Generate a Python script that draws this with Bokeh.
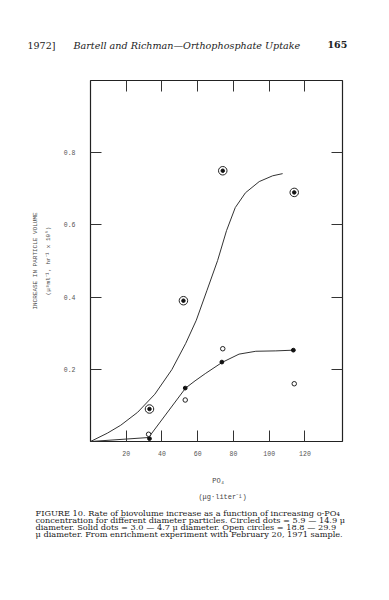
from bokeh.plotting import figure
from bokeh.layouts import column
from bokeh.models import Range1d, LinearAxis, FixedTicker, CustomJSTickFormatter
from bokeh.core.properties import value
from bokeh.embed import file_html
from bokeh.resources import INLINE

# ---- data ----
circled_x = [33, 52, 74, 114]
circled_y = [0.09, 0.39, 0.75, 0.69]
solid_x = [33, 53, 73.5, 113.5]
solid_y = [0.008, 0.148, 0.22, 0.253]
open_x = [32.5, 53, 74, 114]
open_y = [0.02, 0.115, 0.257, 0.16]

upper_x = [0, 9.4, 16.9, 26.4, 36.0, 45.5, 53.3, 59.2, 65.2, 71.1, 76.1, 81.0, 86.7, 94.4, 101.9, 107.5]
upper_y = [0, 0.023, 0.045, 0.081, 0.131, 0.199, 0.272, 0.336, 0.419, 0.501, 0.584, 0.648, 0.689, 0.720, 0.736, 0.742]
lower_x = [0, 32.5, 53.2, 58.5, 64.2, 73.6, 83.1, 92.5, 103.7, 113.6]
lower_y = [0, 0.011, 0.148, 0.168, 0.188, 0.219, 0.242, 0.250, 0.251, 0.253]

x_ticks = [20, 40, 60, 80, 100, 120]
y_ticks = [0.2, 0.4, 0.6, 0.8]

header_left = "1972]"
header_mid = "Bartell and Richman\u2014Orthophosphate Uptake"
header_right = "165"
y_title1 = "INCREASE IN PARTICLE VOLUME"
y_title2 = "(\u03bc\u00b3ml\u207b\u00b9, hr\u207b\u00b9 x 10\u2075)"
x_title1 = "PO\u2084"
x_title2 = "(\u03bcg\u00b7liter\u207b\u00b9)"
caption = [
    "FIGURE 10. Rate of biovolume increase as a function of increasing o-PO\u2084",
    "concentration for different diameter particles. Circled dots = 5.9 \u2014 14.9 \u03bc",
    "diameter. Solid dots = 3.0 \u2014 4.7 \u03bc diameter. Open circles = 18.8 \u2014 29.9",
    "\u03bc diameter. From enrichment experiment with February 20, 1971 sample.",
]

mono = "Liberation Mono"
serif = "DejaVu Serif"
W = 385

# ---- layout (page pixels; the layout sits at the page origin) ----
TOP_H = 60                 # page 0..60
MAIN_TOP = TOP_H
BT, FH, BB = 20, 361, 19   # frame page 80..441
BL = 90
FW = 252
BR = W - BL - FW
MAIN_H = BT + FH + BB      # page 60..460
CAP_TOP = MAIN_TOP + MAIN_H
CAP_H = 135
XMAX, YMAX = 141, 1.0


def text_fig(h):
    f = figure(width=W, height=h, output_backend="svg", toolbar_location=None,
               x_range=Range1d(0, W), y_range=Range1d(h, 0),
               min_border=0, min_border_left=0, min_border_right=0,
               min_border_top=0, min_border_bottom=0,
               x_axis_location=None, y_axis_location=None)
    f.frame_align = False
    f.grid.visible = False
    f.outline_line_color = None
    return f


def put(f, top, text, x, y, font, size, style="normal", align="left",
        color="#222222"):
    f.text(x=[x], y=[y - top], text=[text], text_font=value(font),
           text_font_size=value(size), text_font_style=style,
           text_align=align, text_baseline="middle", text_color=color)


# header strip
head = text_fig(TOP_H)
put(head, 0, header_left, 27, 45, serif, "9.5px")
put(head, 0, header_mid, 73, 45, serif, "9.6px", style="italic")
put(head, 0, header_right, 327, 44, serif, "9.5px", style="bold")

# main chart
p = figure(width=W, height=MAIN_H, output_backend="svg", toolbar_location=None,
           x_range=Range1d(0, XMAX), y_range=Range1d(0, YMAX),
           min_border_left=BL, min_border_right=BR, min_border_top=BT,
           min_border_bottom=BB, x_axis_location=None, y_axis_location=None)
p.frame_align = False
p.grid.visible = False
p.outline_line_color = "#222222"
p.outline_line_width = 1.2


def mk_axis(ticks, show_labels, standoff):
    ax = LinearAxis(ticker=FixedTicker(ticks=ticks))
    ax.axis_line_color = None
    ax.major_tick_in = 11
    ax.major_tick_out = 0
    ax.minor_tick_line_color = None
    ax.major_tick_line_color = "#333333"
    ax.major_tick_line_width = 1
    ax.major_label_text_font = mono
    ax.major_label_text_font_size = "6.5px"
    ax.major_label_text_color = "#555555"
    ax.major_label_standoff = standoff
    if not show_labels:
        ax.formatter = CustomJSTickFormatter(code="return ''")
        ax.major_label_text_font_size = "1px"
    return ax


p.add_layout(mk_axis(x_ticks, True, 9), "below")
p.add_layout(mk_axis(x_ticks, False, 0), "above")
yl = mk_axis(y_ticks, True, 15)
yl.formatter = CustomJSTickFormatter(code="return tick.toFixed(1)")
yl.axis_label = y_title1 + "\n" + y_title2
yl.axis_label_text_font = mono
yl.axis_label_text_font_size = "6px"
yl.axis_label_text_font_style = "normal"
yl.axis_label_text_color = "#444444"
yl.axis_label_text_line_height = 1.85
yl.axis_label_standoff = 9
p.add_layout(yl, "left")
p.add_layout(mk_axis(y_ticks, False, 0), "right")

p.line(upper_x, upper_y, line_color="#333333", line_width=1)
p.line(lower_x, lower_y, line_color="#333333", line_width=1)

p.scatter(circled_x, circled_y, marker="circle", size=8.5, fill_color="white",
          line_color="#222222", line_width=1)
p.scatter(circled_x, circled_y, marker="circle", size=3.5, fill_color="#111111",
          line_color="#111111")
p.scatter(solid_x, solid_y, marker="circle", size=3.8, fill_color="#111111",
          line_color="#111111")
p.scatter(open_x, open_y, marker="circle", size=4.5, fill_color="white",
          line_color="#222222", line_width=1)

# x-axis title and caption strip
cap = text_fig(CAP_H)
put(cap, CAP_TOP, x_title1, 218, 480, mono, "7px", align="center", color="#444444")
put(cap, CAP_TOP, x_title2, 222, 496, mono, "7px", align="center", color="#444444")
for i, line in enumerate(caption):
    put(cap, CAP_TOP, line, 35, 512.5 + i * 6.9, serif, "8.2px")

layout = column(head, p, cap, spacing=0)
open("out.html", "w").write(file_html(layout, INLINE))
